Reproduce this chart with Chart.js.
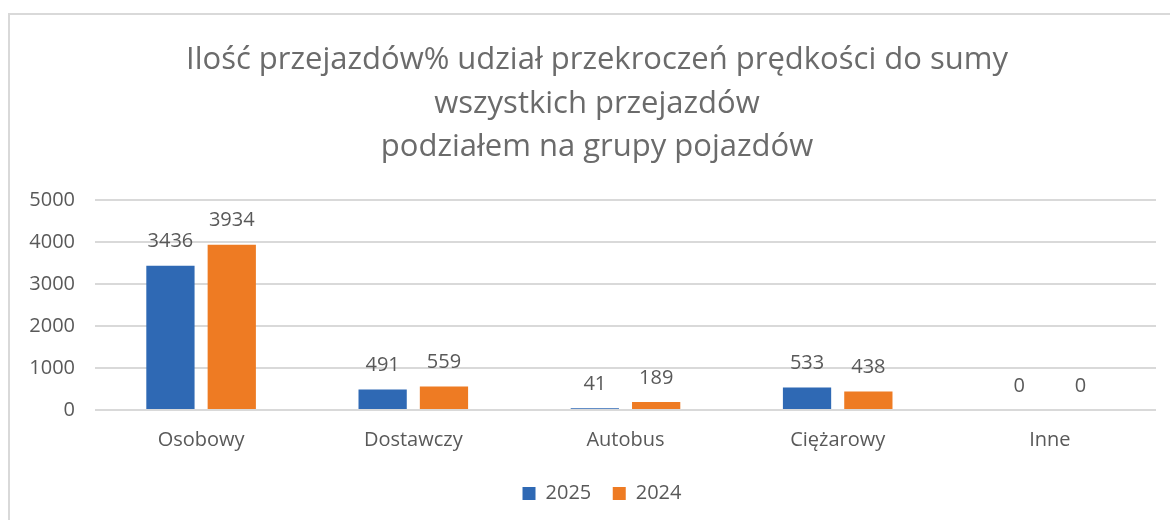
<!DOCTYPE html>
<html>
<head>
<meta charset="utf-8">
<script src="https://cdn.jsdelivr.net/npm/chart.js@4"></script>
<style>
  html, body { margin: 0; padding: 0; background: #fff; }
  #wrap { position: relative; width: 1170px; height: 520px; overflow: hidden; }
  #frame { position: absolute; left: 8px; top: 13px; width: 1200px; height: 600px; border: 2px solid #d9d9d9; box-sizing: border-box; }
  #myChart { position: absolute; left: 0; top: 0; }
</style>
</head>
<body>
<div id="wrap">
  <div id="frame"></div>
  <canvas id="myChart" width="1170" height="520"></canvas>
</div>
<script>
// dane wykresu
const categories = ['Osobowy', 'Dostawczy', 'Autobus', 'Ciężarowy', 'Inne'];
const values2025 = [3436, 491, 41, 533, 0];
const values2024 = [3934, 559, 189, 438, 0];
const yTicks = [0, 1000, 2000, 3000, 4000, 5000];
const titleLines = ['Ilość przejazdów% udział przekroczeń prędkości do sumy', 'wszystkich przejazdów', 'podziałem na grupy pojazdów'];

const textColor = '#595959';
const fontFamily = '"Open Sans", "Noto Sans", sans-serif';

// etykiety wartości nad słupkami
const barLabels = {
  id: 'barLabels',
  afterDatasetsDraw(chart) {
    const { ctx } = chart;
    ctx.save();
    ctx.font = `20px ${fontFamily}`;
    ctx.fillStyle = textColor;
    ctx.textAlign = 'center';
    ctx.textBaseline = 'middle';
    chart.data.datasets.forEach((ds, i) => {
      chart.getDatasetMeta(i).data.forEach((bar, j) => {
        ctx.fillText(ds.data[j], bar.x, bar.y - 24);
      });
    });
    ctx.restore();
  }
};

// tytuł przesunięty jak w oryginale
const titleText = {
  id: 'titleText',
  afterDraw(chart) {
    const { ctx } = chart;
    ctx.save();
    ctx.font = `31px ${fontFamily}`;
    ctx.fillStyle = '#6b6b6b';
    ctx.textAlign = 'center';
    ctx.textBaseline = 'middle';
    titleLines.forEach((line, i) => ctx.fillText(line, 597, 60.5 + i * 43.4));
    ctx.restore();
  }
};

// legenda lekko w prawo, jak w oryginale
const legendShift = {
  id: 'legendShift',
  afterLayout(chart) {
    chart.legend.left += 24;
    chart.legend.right += 24;
  }
};

const ctx = document.getElementById('myChart');

new Chart(ctx, {
  type: 'bar',
  data: {
    labels: categories,
    datasets: [
      { label: '2025', data: values2025, backgroundColor: '#2F69B4', categoryPercentage: 0.578, barPercentage: 0.787 },
      { label: '2024', data: values2024, backgroundColor: '#EE7B23', categoryPercentage: 0.578, barPercentage: 0.787 }
    ]
  },
  options: {
    responsive: false,
    animation: false,
    layout: { padding: { left: 0, right: 14, top: 200, bottom: 6.5 } },
    scales: {
      x: {
        grid: { display: false },
        border: { display: false },
        ticks: { color: textColor, font: { family: fontFamily, size: 20 }, padding: 10 }
      },
      y: {
        min: 0,
        max: 5000,
        afterBuildTicks(scale) {
          scale.ticks = yTicks.map(v => ({ value: v }));
        },
        afterFit(scale) { scale.width = 95; },
        grid: { color: '#d9d9d9', lineWidth: 2, drawTicks: false },
        border: { display: false },
        ticks: {
          color: textColor,
          font: { family: fontFamily, size: 20 },
          padding: 20,
          callback: v => String(v)
        }
      }
    },
    plugins: {
      legend: {
        position: 'bottom',
        labels: {
          color: textColor,
          font: { family: fontFamily, size: 20 },
          boxWidth: 13,
          boxHeight: 13,
          padding: 21.5
        }
      },
      tooltip: { enabled: false }
    }
  },
  plugins: [barLabels, titleText, legendShift]
});
</script>
</body>
</html>
